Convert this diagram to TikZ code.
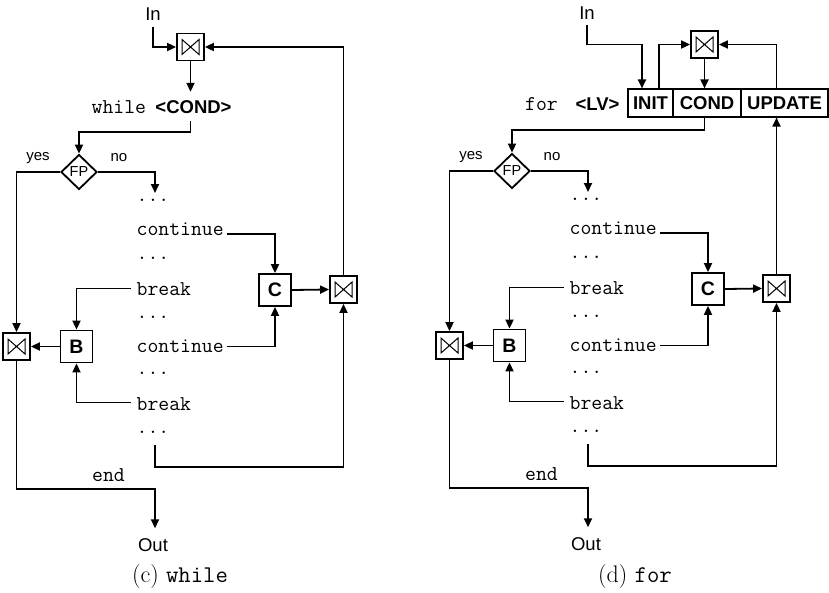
\documentclass[tikz,border=0pt]{standalone}
\usepackage{fontspec}
\newfontfamily\helv{Liberation Sans}
\usetikzlibrary{arrows.meta,shapes.geometric,calc}

\tikzset{
 conn/.style={line width=1.8pt},
 arr/.style={conn,-{Triangle[length=9pt,width=8pt]}},
 code/.style={font=\ttfamily\fontsize{21.1}{23}\selectfont, inner sep=0pt, anchor=base west},
 sans/.style={font=\helv\fontsize{18.5}{20}\selectfont, inner sep=0pt},
 sansb/.style={font=\helv\bfseries\fontsize{18.5}{20}\selectfont, inner sep=0pt},
 small/.style={font=\helv\fontsize{15}{16}\selectfont, inner sep=0pt},
 bbox/.style={draw, line width=1.8pt, minimum size=32pt, inner sep=0pt,
   font=\helv\bfseries\fontsize{19.5}{20}\selectfont},
 merge/.style={draw, line width=1.8pt, minimum size=27pt, inner sep=0pt,
   path picture={\draw[line width=1pt]
     ($(path picture bounding box.north west)+(5pt,-6pt)$) --
     ($(path picture bounding box.south east)+(-5pt,6pt)$) --
     ($(path picture bounding box.north east)+(-5pt,-6pt)$) --
     ($(path picture bounding box.south west)+(5pt,6pt)$) -- cycle;}},
 fp/.style={diamond, draw, line width=1.8pt, minimum width=36pt, minimum height=35pt,
   inner sep=0pt, font=\helv\fontsize{14.5}{15}\selectfont},
 cell/.style={draw, line width=1.1pt, minimum height=28pt, inner sep=0pt,
   text height=13.3pt, text depth=0pt, font=\helv\bfseries\fontsize{18.5}{20}\selectfont},
 capt/.style={font=\fontsize{24}{27}\selectfont, inner sep=0pt},
}

\newcommand\loopbody[1]{%
 \node[fp] (#1FP) at (79,172) {FP};
 \node[small] (#1yes) at (38,158) {yes};
 \node[small] (#1no) at (119,158) {no};
 \node[code] (#1d1) at (136.5,201) {...};
 \node[code] (#1c1) at (136.5,235.5) {continue};
 \node[code] (#1d2) at (136.5,259) {...};
 \node[code] (#1b1) at (136.5,295) {break};
 \node[code] (#1d3) at (136.5,318) {...};
 \node[code] (#1c2) at (136.5,352.5) {continue};
 \node[code] (#1d4) at (136.5,374) {...};
 \node[code] (#1b2) at (136.5,410) {break};
 \node[code] (#1d5) at (136.5,433) {...};
 \node[code] (#1end) at (92,481) {end};
 \node[sans, inner ysep=10pt] (#1Out) at (153,545) {Out};
 \node[bbox] (#1C) at (275,290) {C};
 \node[bbox] (#1B) at (76.5,346.5) {B};
 \node[merge] (#1ML) at (16.5,346.5) {};
 \node[merge] (#1M2) at (343.5,289.5) {};
 \coordinate (#1ka) at (155,193);
 \coordinate (#1k2) at (155,445);
 \coordinate (#1k3) at (155,467);
 \coordinate (#1k5) at (155,489);
 \draw[arr] (#1FP.west) -| (#1ML.north);
 \draw[arr] (#1FP.east) -| (#1ka);
 \draw[arr] ([xshift=3pt,yshift=1.5pt]#1c1.base east) -| (#1C.north);
 \draw[arr] ([xshift=-6pt,yshift=6.5pt]#1b1.base west) -| (#1B.north);
 \draw[arr] (#1C.east) -- (#1M2.west);
 \draw[arr] ([xshift=3pt,yshift=6pt]#1c2.base east) -| (#1C.south);
 \draw[arr] ([xshift=-6pt,yshift=7.5pt]#1b2.base west) -| (#1B.south);
 \draw[arr] (#1B.west) -- (#1ML.east);
 \draw[arr] (#1k2) -- (#1k3) -| (#1M2.south);
 \draw[arr] (#1ML.south) |- (#1k5) -- (#1k5 |- #1Out.north);
}

\begin{document}
\begin{tikzpicture}[x=1pt,y=-1pt]
\useasboundingbox (0,0) rectangle (829,592);

% ---------- (c) while ----------
\begin{scope}
 \loopbody{L}
\end{scope}
\node[sans, inner ysep=6pt] (LIn) at (153,14) {In};
\node[merge] (LM1) at (190.5,47) {};
\node[code] (Lwhile) at (91.5,113) {while};
\node[sansb, anchor=base, text height=13pt, text depth=0pt, inner ysep=8pt] (Lcond) at (193.5,113) {<COND>};
\coordinate (Lk1) at (190.5,132);
\draw[arr] (LIn.south) |- (LM1.west);
\draw[arr] (LM1.south) -- (LM1.south |- Lcond.north);
\draw[arr] (LM1 |- Lcond.south) -- (Lk1) -| (LFP.north);
\draw[arr] (LM2.north) |- (LM1.east);
\node[capt] (Lcap) at (180,577) {(c) \texttt{while}};

% ---------- (d) for ----------
\begin{scope}[shift={(433,-1)}]
 \loopbody{R}
\end{scope}
\node[sans, inner ysep=5pt] (RIn) at (587,13) {In};
\node[merge] (RM1) at (704.5,44.5) {};
\node[cell, minimum width=45pt] (Rinit) at (650.5,103) {INIT};
\node[cell, minimum width=68pt] (Rcond) at (707,103) {COND};
\node[cell, minimum width=87pt] (Rupd) at (784.5,103) {UPDATE};
\node[code] (Rfor) at (525,110.5) {for};
\node[sansb, anchor=base] (Rlv) at (597.5,110.5) {<LV>};
\coordinate (Rka) at (642,44.5);
\coordinate (Rkb) at (659,44.5);
\coordinate (Rk1) at (704.5,130);
\draw[arr] (RIn.south) |- (Rka) -- (Rka |- Rinit.north);
\draw[arr] (Rkb |- Rinit.north) |- (RM1.west);
\draw[arr] (RM1.south) -- (RM1.south |- Rcond.north);
\draw[arr] (RM1 |- Rcond.south) -- (Rk1) -| (RFP.north);
\draw[arr] (RM2 |- Rupd.north) |- (RM1.east);
\draw[arr] (RM2.north) -- (RM2 |- Rupd.south);
\node[capt] (Rcap) at (635,577) {(d) \texttt{for}};
\end{tikzpicture}
\end{document}
